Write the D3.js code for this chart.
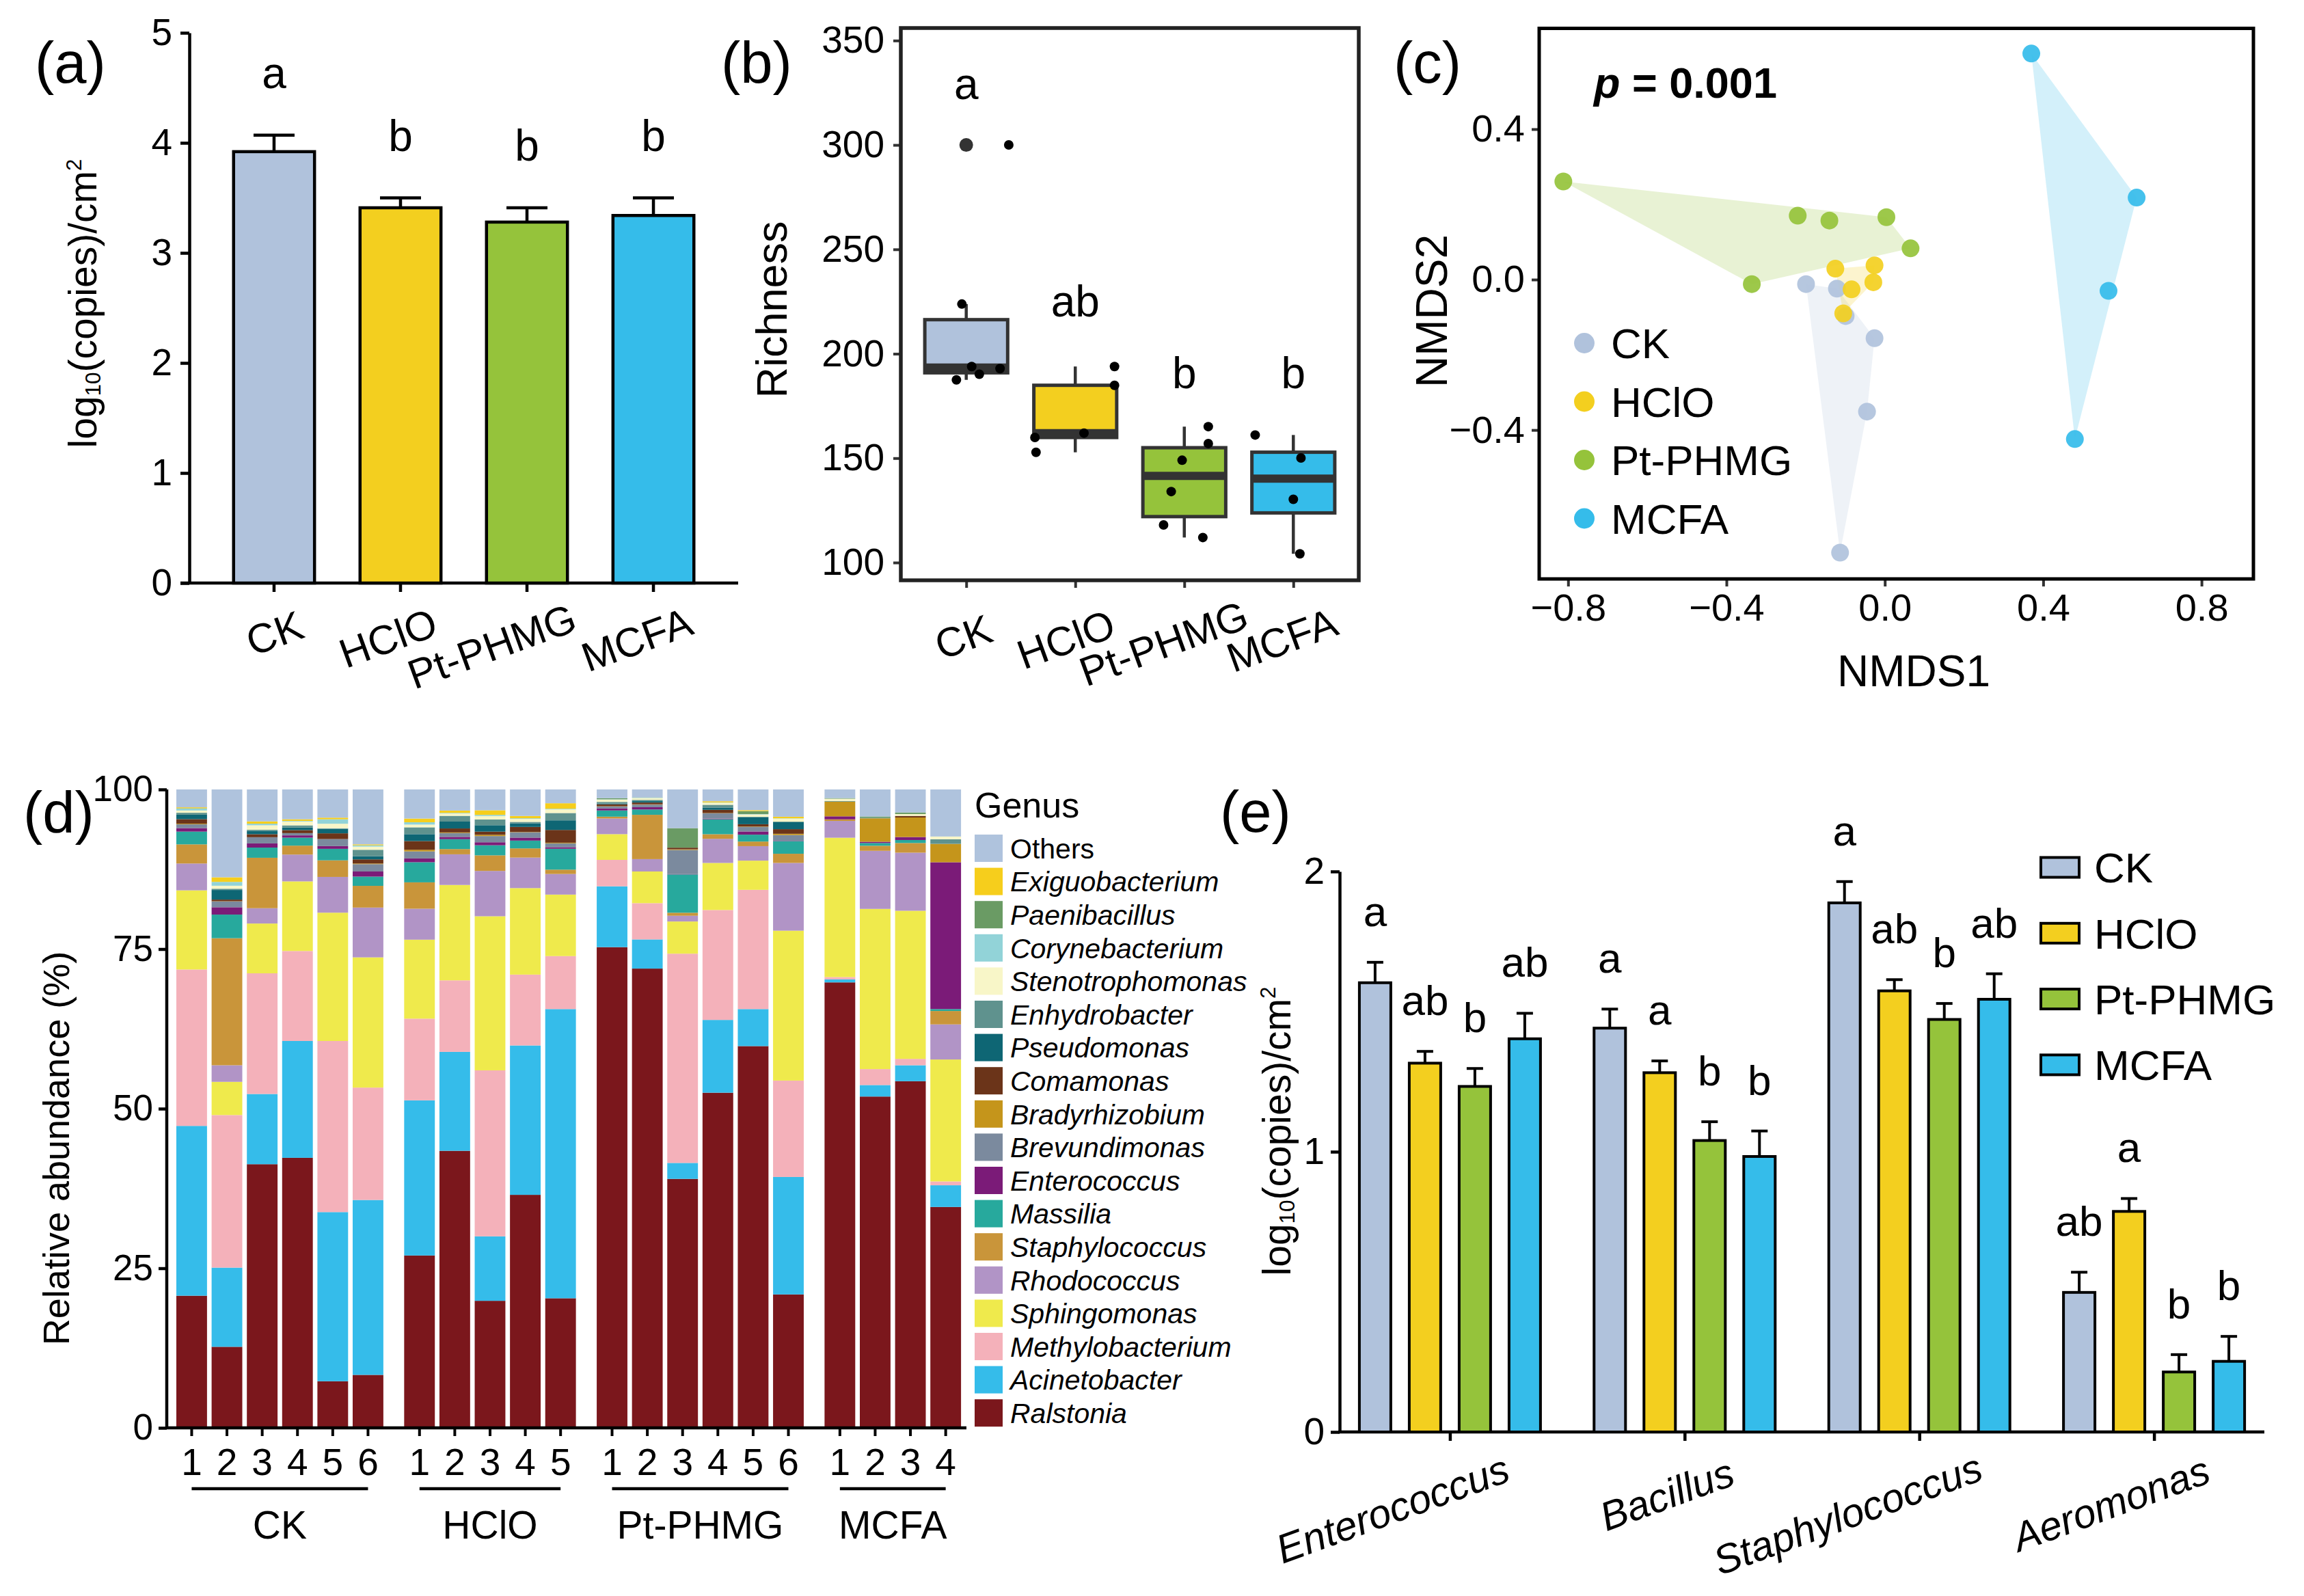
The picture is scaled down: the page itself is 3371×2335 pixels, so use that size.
<!DOCTYPE html>
<html lang="en">
<head>
<meta charset="UTF-8">
<title>Disinfectant effects on surface bacteria</title>
<style>
  body { margin: 0; background: #fff; }
  svg { display: block; background: #fff; }
  text { font-family: Arial, "Liberation Sans", sans-serif; fill: #000; }
</style>
</head>
<body>
<svg id="fig" width="3371" height="2335"></svg>
<script src="https://cdn.jsdelivr.net/npm/d3@7"></script>
<script>
// treatments shared by every panel
const groups = ["CK", "HClO", "Pt-PHMG", "MCFA"];
const groupColors = ["#B0C2DC", "#F3CF1F", "#95C33B", "#35BCEA"];

// (a) total bacterial load
const loadMean = [3.92, 3.41, 3.28, 3.34];
const loadErr = [0.15, 0.09, 0.13, 0.16];
const loadLetters = ["a", "b", "b", "b"];

// (b) richness of each sample, with the jitter seen in the plot (fraction of a step)
const richness = [
  [300, 223.8, 193.9, 190.2, 192.9, 187.5],
  [159.9, 152.8, 162, 193.9, 184.9],
  [165.1, 157, 149, 134, 118, 112],
  [161.1, 150.1, 130.3, 104.2]
];
const richJitter = [
  [0.39, -0.04, 0.05, 0.12, 0.31, -0.09],
  [-0.37, -0.36, 0.08, 0.36, 0.36],
  [0.22, 0.22, -0.02, -0.12, -0.19, 0.17],
  [-0.35, 0.07, 0, 0.06]
];
const richLetters = ["a", "ab", "b", "b"];
const richLetterAt = [322, 218, 183.5, 183.5];

// (c) NMDS scores
const nmdsCK = [[-0.199, -0.012], [-0.121, -0.024], [-0.099, -0.097], [-0.026, -0.156], [-0.045, -0.351], [-0.113, -0.726]];
const nmdsHClO = [[-0.125, 0.029], [-0.026, 0.038], [-0.029, -0.007], [-0.084, -0.026], [-0.105, -0.090]];
const nmdsPt = [[-0.812, 0.261], [-0.220, 0.170], [-0.140, 0.157], [0.004, 0.166], [0.065, 0.083], [-0.336, -0.012]];
const nmdsMCFA = [[0.370, 0.601], [0.636, 0.218], [0.565, -0.030], [0.480, -0.424]];
const nmdsP = "0.001";

// (d) genus composition, stack order bottom -> top; "Others" is the remainder
const genusNames = ["Ralstonia", "Acinetobacter", "Methylobacterium", "Sphingomonas", "Rhodococcus",
  "Staphylococcus", "Massilia", "Enterococcus", "Brevundimonas", "Bradyrhizobium", "Comamonas",
  "Pseudomonas", "Enhydrobacter", "Stenotrophomonas", "Corynebacterium", "Paenibacillus", "Exiguobacterium"];
const genusColors = ["#7B171C", "#35BCEA", "#F4B1BA", "#EFEA4C", "#B194C6", "#C9953A", "#27A99D",
  "#7B1B78", "#7B8A9E", "#C5951B", "#6B3419", "#0E6674", "#5F928E", "#F8F6C8", "#92D3D8",
  "#6A9B64", "#F6CE1C"];
const othersColor = "#AFC3DD";
const sampleCounts = [6, 5, 6, 4];
const composition = [
  [20.7, 26.6, 24.5, 12.4, 4.2, 3.0, 2.0, 0.55, 0.6, 0.1, 0.7, 0.7, 0.3, 0.35, 0.3, 0.05, 0.15],
  [12.7, 12.4, 23.9, 5.2, 2.6, 19.9, 3.7, 1.15, 0.9, 0.05, 0.25, 1.5, 0.2, 0.47, 0.6, 0, 0.72],
  [41.3, 11.0, 18.9, 7.8, 2.4, 7.9, 1.6, 0.65, 0.97, 0, 0.47, 0.5, 0.2, 0.7, 0.25, 0, 0.36],
  [42.3, 18.3, 14.1, 10.9, 4.2, 1.4, 1.25, 0.36, 0.35, 0, 0.47, 0.4, 0.35, 0.6, 0.1, 0, 0.25],
  [7.3, 26.5, 26.8, 20.1, 5.6, 2.6, 1.8, 0.43, 1.1, 0, 0.9, 0.7, 0.1, 0.7, 0.7, 0, 0.25],
  [8.3, 27.4, 17.6, 20.4, 7.8, 3.4, 1.45, 0.8, 1.15, 0.1, 0.65, 0.5, 1.0, 0.5, 0.2, 0, 0.15],
  [27.0, 24.3, 12.8, 12.37, 4.85, 4.13, 3.15, 0.6, 1.1, 0.25, 1.37, 1.08, 1.07, 0.43, 0.36, 0, 0.58],
  [43.4, 15.5, 11.2, 14.94, 4.8, 0.82, 1.55, 0.36, 0.6, 0.1, 0.62, 1.08, 0.9, 0.36, 0.1, 0, 0.36],
  [19.9, 10.1, 26.0, 24.14, 7.1, 2.44, 1.58, 0.47, 0.97, 0.2, 0.5, 1.0, 0.9, 0.54, 0.18, 0, 0.72],
  [36.5, 23.4, 11.1, 13.55, 4.78, 1.44, 1.22, 0.47, 0.83, 0.05, 0.79, 0.54, 0.25, 0.47, 0.1, 0, 0.36],
  [20.3, 45.3, 8.3, 9.63, 3.23, 0.68, 3.27, 0.25, 0.6, 0.1, 2.0, 1.5, 1.15, 0.57, 0.1, 0, 0.86],
  [75.3, 9.53, 4.14, 4.03, 2.45, 0.29, 0.97, 0.32, 0.3, 0.05, 0.3, 0.12, 0.25, 0.36, 0.05, 0.18, 0],
  [71.94, 4.57, 5.68, 4.96, 1.94, 6.94, 0.83, 0.36, 0.4, 0.05, 0.28, 0.22, 0.2, 0.29, 0.05, 0.05, 0],
  [39.0, 2.5, 32.78, 5.04, 0.9, 0.47, 6.0, 0.05, 3.78, 0.1, 0.26, 0, 0, 0, 0, 3.06, 0],
  [52.5, 11.4, 17.22, 7.37, 3.78, 0.72, 2.34, 0.1, 0.83, 0.05, 0.5, 0.36, 0.43, 0.32, 0.05, 0, 0.18],
  [59.8, 5.8, 18.68, 4.57, 2.27, 0.72, 1.08, 0.5, 0.72, 0.05, 0.36, 1.08, 0.1, 0.36, 0.05, 0.47, 0.15],
  [20.9, 18.4, 15.1, 23.48, 10.61, 1.44, 1.98, 0.05, 0.9, 0.2, 0.72, 1.08, 0.1, 0.47, 0.05, 0, 0.25],
  [69.78, 0.47, 0.36, 21.83, 2.63, 0.25, 0, 0.47, 0, 2.3, 0, 0, 0.1, 0.36, 0, 0.1, 0],
  [51.9, 1.8, 2.5, 25.09, 9.1, 0.79, 0.43, 0.2, 0, 3.67, 0, 0, 0.1, 0, 0, 0.18, 0],
  [54.3, 2.5, 1.0, 23.2, 9.1, 1.51, 0.47, 0.47, 0, 3.06, 0.25, 0, 0, 0.29, 0, 0.25, 0],
  [34.6, 3.4, 0.6, 19.1, 5.5, 2.1, 0.3, 23.0, 0, 2.88, 0, 0, 0.72, 0.43, 0, 0, 0]
];

// (e) target genera by qPCR
const targets = ["Enterococcus", "Bacillus", "Staphylococcus", "Aeromonas"];
const targetMean = [[1.603, 1.316, 1.233, 1.403], [1.441, 1.282, 1.040, 0.983], [1.888, 1.574, 1.472, 1.544], [0.498, 0.787, 0.214, 0.252]];
const targetErr = [[0.073, 0.042, 0.064, 0.091], [0.068, 0.042, 0.067, 0.091], [0.076, 0.040, 0.057, 0.091], [0.072, 0.046, 0.062, 0.089]];
const targetLetters = [["a", "ab", "b", "ab"], ["a", "a", "b", "b"], ["a", "ab", "b", "ab"], ["ab", "a", "b", "b"]];

const svg = d3.select("#fig");
const color = d3.scaleOrdinal().domain(groups).range(groupColors);

function panelLabel(x, y, t) {
  svg.append("text").attr("x", x).attr("y", y).attr("font-size", 85).text(t);
}

// y title with a subscript 10 and a superscript 2
function logTitle(x, y, size) {
  const t = svg.append("text").attr("transform", `translate(${x},${y}) rotate(-90)`)
    .attr("text-anchor", "middle").attr("font-size", size);
  t.append("tspan").text("log");
  t.append("tspan").attr("font-size", size * 0.55).attr("dy", size * 0.1).text("10");
  t.append("tspan").attr("dy", -size * 0.1).text("(copies)/cm");
  t.append("tspan").attr("font-size", size * 0.55).attr("dy", -size * 0.38).text("2");
}

function styleAxis(g, width, col) {
  g.selectAll("line").attr("stroke", col || "#000").attr("stroke-width", width);
  g.selectAll("path").attr("stroke", col || "#000").attr("stroke-width", width);
  g.selectAll("text").attr("font-family", "Arial, 'Liberation Sans', sans-serif").attr("fill", "#000");
}

// slanted tick labels: the point at fraction hj of the text sits at (dx, dy) from the tick
function slant(sel, dx, dy, hj, angle) {
  sel.each(function () {
    const len = this.getComputedTextLength();
    d3.select(this).attr("text-anchor", "start").attr("x", -hj * len).attr("y", 0).attr("dy", 0)
      .attr("transform", `translate(${dx},${dy}) rotate(${-angle})`);
  });
}

// ---------- (a) ----------
{
  const y = d3.scaleLinear().domain([0, 5]).range([853, 48]);
  const x = d3.scaleBand().domain(groups).range([277, 1080]).paddingInner(0.36).paddingOuter(0.35);

  const ya = svg.append("g").attr("transform", "translate(277,0)")
    .call(d3.axisLeft(y).ticks(5).tickSize(13).tickSizeOuter(0).tickPadding(12));
  ya.selectAll("text").attr("font-size", 55);
  styleAxis(ya, 4.5);

  const xa = svg.append("g").attr("transform", "translate(0,853)")
    .call(d3.axisBottom(x).tickSize(13).tickSizeOuter(0));
  xa.select(".domain").remove();
  xa.append("line").attr("x1", 264).attr("x2", 1080).attr("stroke", "#000");
  xa.selectAll(".tick text").attr("font-size", 60);
  styleAxis(xa, 4.5);
  slant(xa.selectAll(".tick text"), 33, 84, 0.82, 20);

  const bars = svg.append("g");
  groups.forEach((g, i) => {
    const cx = x(g) + x.bandwidth() / 2;
    const top = y(loadMean[i] + loadErr[i]);
    bars.append("line").attr("x1", cx).attr("x2", cx).attr("y1", y(loadMean[i])).attr("y2", top)
      .attr("stroke", "#000").attr("stroke-width", 4.5);
    bars.append("line").attr("x1", cx - 30).attr("x2", cx + 30).attr("y1", top).attr("y2", top)
      .attr("stroke", "#000").attr("stroke-width", 4.5);
    bars.append("rect").attr("x", x(g)).attr("width", x.bandwidth())
      .attr("y", y(loadMean[i])).attr("height", y(0) - y(loadMean[i]))
      .attr("fill", color(g)).attr("stroke", "#000").attr("stroke-width", 4.5);
    bars.append("text").attr("x", cx).attr("y", top - 69)
      .attr("text-anchor", "middle").attr("font-size", 64).text(loadLetters[i]);
  });

  logTitle(141, 444, 57);
  panelLabel(51, 121, "(a)");
}

// ---------- (b) ----------
{
  const y = d3.scaleLinear().domain([91.5, 356]).range([849, 41]);
  const x = d3.scalePoint().domain(groups).range([1318, 1988]).padding(0.6);
  const boxW = x.step() * 0.76;
  const dark = "#333";

  const yb = svg.append("g").attr("transform", "translate(1318,0)")
    .call(d3.axisLeft(y).tickValues([100, 150, 200, 250, 300, 350]).tickSize(11).tickPadding(13));
  yb.select(".domain").remove();
  yb.selectAll("text").attr("font-size", 55);
  styleAxis(yb, 4, dark);

  const xb = svg.append("g").attr("transform", "translate(0,849)")
    .call(d3.axisBottom(x).tickSize(11));
  xb.select(".domain").remove();
  xb.selectAll(".tick text").attr("font-size", 60);
  styleAxis(xb, 4, dark);
  slant(xb.selectAll(".tick text"), 15, 98, 0.66, 20);

  const boxes = svg.append("g");
  groups.forEach((g, i) => {
    const v = richness[i].slice().sort(d3.ascending);
    const q1 = d3.quantile(v, 0.25), med = d3.quantile(v, 0.5), q3 = d3.quantile(v, 0.75);
    const iqr = q3 - q1;
    const hi = d3.max(v.filter(d => d <= q3 + 1.5 * iqr));
    const lo = d3.min(v.filter(d => d >= q1 - 1.5 * iqr));
    const outl = v.filter(d => d > q3 + 1.5 * iqr || d < q1 - 1.5 * iqr);
    const cx = x(g);
    boxes.append("line").attr("x1", cx).attr("x2", cx).attr("y1", y(q3)).attr("y2", y(hi))
      .attr("stroke", dark).attr("stroke-width", 4.5);
    boxes.append("line").attr("x1", cx).attr("x2", cx).attr("y1", y(q1)).attr("y2", y(lo))
      .attr("stroke", dark).attr("stroke-width", 4.5);
    boxes.append("rect").attr("x", cx - boxW / 2).attr("width", boxW)
      .attr("y", y(q3)).attr("height", y(q1) - y(q3))
      .attr("fill", color(g)).attr("stroke", dark).attr("stroke-width", 5);
    boxes.append("line").attr("x1", cx - boxW / 2).attr("x2", cx + boxW / 2)
      .attr("y1", y(med)).attr("y2", y(med)).attr("stroke", dark).attr("stroke-width", 12);
    outl.forEach(o => boxes.append("circle").attr("cx", cx).attr("cy", y(o)).attr("r", 10).attr("fill", dark));
    richness[i].forEach((d, j) => {
      boxes.append("circle").attr("cx", cx + richJitter[i][j] * x.step()).attr("cy", y(d))
        .attr("r", 7).attr("fill", "#000");
    });
    boxes.append("text").attr("x", cx).attr("y", y(richLetterAt[i]))
      .attr("text-anchor", "middle").attr("font-size", 64).text(richLetters[i]);
  });

  svg.append("rect").attr("x", 1318).attr("y", 41).attr("width", 670).attr("height", 808)
    .attr("fill", "none").attr("stroke", "#222").attr("stroke-width", 5.5);

  svg.append("text").attr("transform", "translate(1151,453) rotate(-90)")
    .attr("text-anchor", "middle").attr("font-size", 63).text("Richness");
  panelLabel(1055, 121, "(b)");
}

// ---------- (c) ----------
{
  const x = d3.scaleLinear().domain([-0.873, 0.931]).range([2252, 3297]);
  const y = d3.scaleLinear().domain([-0.796, 0.668]).range([847, 41.5]);
  const sets = [nmdsCK, nmdsHClO, nmdsPt, nmdsMCFA];
  const fmt = d => d3.format(".1f")(d).replace("-", "\u2212");

  const xc = svg.append("g").attr("transform", "translate(0,847)")
    .call(d3.axisBottom(x).tickValues([-0.8, -0.4, 0, 0.4, 0.8]).tickSize(11).tickPadding(10));
  xc.select(".domain").remove();
  xc.selectAll("text").attr("font-size", 56).text(fmt);
  styleAxis(xc, 4, "#333");

  const yc = svg.append("g").attr("transform", "translate(2252,0)")
    .call(d3.axisLeft(y).tickValues([-0.4, 0, 0.4]).tickSize(11).tickPadding(10));
  yc.select(".domain").remove();
  yc.selectAll("text").attr("font-size", 56).text(fmt);
  styleAxis(yc, 4, "#333");

  const hulls = svg.append("g");
  sets.forEach((pts, i) => {
    const hull = d3.polygonHull(pts.map(p => [x(p[0]), y(p[1])]));
    hulls.append("path").attr("d", "M" + hull.join("L") + "Z")
      .attr("fill", groupColors[i]).attr("fill-opacity", 0.22).attr("stroke", "none");
  });
  sets.forEach((pts, i) => {
    hulls.selectAll(null).data(pts).join("circle")
      .attr("cx", d => x(d[0])).attr("cy", d => y(d[1])).attr("r", 13)
      .attr("fill", groupColors[i]).attr("fill-opacity", 0.92);
  });

  svg.append("rect").attr("x", 2252).attr("y", 41.5).attr("width", 1045).attr("height", 805.5)
    .attr("fill", "none").attr("stroke", "#000").attr("stroke-width", 5);

  const pl = svg.append("text").attr("x", 2332).attr("y", 143)
    .attr("font-family", "'Times New Roman', 'Liberation Serif', serif").attr("font-weight", "bold").attr("font-size", 63);
  pl.append("tspan").attr("font-style", "italic").text("p");
  pl.append("tspan").text(" = " + nmdsP);

  const leg = svg.append("g");
  groups.forEach((g, i) => {
    const ly = 502 + i * 85.5;
    leg.append("circle").attr("cx", 2318).attr("cy", ly).attr("r", 15).attr("fill", groupColors[i]);
    leg.append("text").attr("x", 2357).attr("y", ly).attr("dy", "0.36em").attr("font-size", 62).text(g);
  });

  svg.append("text").attr("x", 2800).attr("y", 1004).attr("text-anchor", "middle").attr("font-size", 64).text("NMDS1");
  svg.append("text").attr("transform", "translate(2117,455) rotate(-90)")
    .attr("text-anchor", "middle").attr("font-size", 64).text("NMDS2");
  panelLabel(2039, 121, "(c)");
}

// ---------- (d) ----------
{
  const y = d3.scaleLinear().domain([0, 100]).range([2089, 1155]);
  const gap = 0.46;
  const slotX = d3.scaleLinear().domain([0, 1]).range([258, 309.6]);
  const barW = (slotX(1) - slotX(0)) * 0.87;

  // flatten samples with their slot positions
  const samples = [];
  let k = 0;
  sampleCounts.forEach((n, g) => {
    for (let s = 0; s < n; s++) {
      samples.push({ group: g, label: s + 1, slot: k + g * gap, values: composition[k] });
      k++;
    }
  });

  const bars = svg.append("g");
  samples.forEach(smp => {
    let acc = 0;
    const x0 = slotX(smp.slot);
    smp.values.forEach((v, j) => {
      if (v <= 0) return;
      bars.append("rect").attr("x", x0).attr("width", barW)
        .attr("y", y(acc + v)).attr("height", y(acc) - y(acc + v)).attr("fill", genusColors[j]);
      acc += v;
    });
    bars.append("rect").attr("x", x0).attr("width", barW)
      .attr("y", y(100)).attr("height", y(acc) - y(100)).attr("fill", othersColor);
  });

  const yd = svg.append("g").attr("transform", "translate(244,0)")
    .call(d3.axisLeft(y).tickValues([0, 25, 50, 75, 100]).tickSize(12).tickSizeOuter(0).tickPadding(8));
  yd.select(".domain").remove();
  yd.selectAll("text").attr("font-size", 53);
  styleAxis(yd, 4.5);

  const axisG = svg.append("g");
  axisG.append("line").attr("x1", 244).attr("x2", 1414).attr("y1", y(0)).attr("y2", y(0))
    .attr("stroke", "#000").attr("stroke-width", 4.5);
  axisG.append("line").attr("x1", 244).attr("x2", 244).attr("y1", y(100)).attr("y2", y(0) + 2)
    .attr("stroke", "#000").attr("stroke-width", 4.5);
  samples.forEach(smp => {
    const cx = slotX(smp.slot) + barW / 2;
    axisG.append("line").attr("x1", cx).attr("x2", cx).attr("y1", y(0)).attr("y2", y(0) + 12)
      .attr("stroke", "#000").attr("stroke-width", 4);
    axisG.append("text").attr("x", cx).attr("y", y(0) + 69).attr("text-anchor", "middle")
      .attr("font-size", 55).text(smp.label);
  });
  groups.forEach((g, gi) => {
    const members = samples.filter(s => s.group === gi);
    const a = slotX(members[0].slot) + barW / 2;
    const b = slotX(members[members.length - 1].slot) + barW / 2;
    axisG.append("line").attr("x1", a).attr("x2", b).attr("y1", 2178).attr("y2", 2178)
      .attr("stroke", "#000").attr("stroke-width", 4.5);
    axisG.append("text").attr("x", (a + b) / 2).attr("y", 2251).attr("text-anchor", "middle")
      .attr("font-size", 57).text(g);
  });

  svg.append("text").attr("transform", "translate(101,1680) rotate(-90)")
    .attr("text-anchor", "middle").attr("font-size", 54).text("Relative abundance (%)");
  panelLabel(34, 1218, "(d)");

  // legend, top entry is Others
  const leg = svg.append("g");
  leg.append("text").attr("x", 1426).attr("y", 1196).attr("font-size", 52).text("Genus");
  const entries = [{ name: "Others", col: othersColor, italic: false }]
    .concat(genusNames.map((n, j) => ({ name: n, col: genusColors[j], italic: true })).reverse());
  entries.forEach((e, i) => {
    const ly = 1221 + i * 48.6;
    leg.append("rect").attr("x", 1426).attr("y", ly).attr("width", 41).attr("height", 40).attr("fill", e.col);
    leg.append("text").attr("x", 1478).attr("y", ly + 20).attr("dy", "0.36em").attr("font-size", 41)
      .attr("font-style", e.italic ? "italic" : "normal").text(e.name);
  });
}

// ---------- (e) ----------
{
  const y = d3.scaleLinear().domain([0, 2]).range([2095, 1275]);
  const x = d3.scalePoint().domain(targets).range([1960, 3313]).padding(0.47);
  const inner = d3.scalePoint().domain(groups).range([-109.5, 109.5]);
  const barW = 46;

  const ye = svg.append("g").attr("transform", "translate(1960,0)")
    .call(d3.axisLeft(y).ticks(2).tickSize(13).tickSizeOuter(0).tickPadding(9));
  ye.selectAll("text").attr("font-size", 55);
  styleAxis(ye, 4.5);

  const xe = svg.append("g").attr("transform", "translate(0,2095)")
    .call(d3.axisBottom(x).tickSize(13).tickSizeOuter(0));
  xe.select(".domain").remove();
  xe.append("line").attr("x1", 1958).attr("x2", 3313).attr("stroke", "#000");
  xe.selectAll(".tick text").attr("font-size", 59).attr("font-style", "italic");
  styleAxis(xe, 4.5);
  slant(xe.selectAll(".tick text"), 57, 83, 0.9, 20);

  const bars = svg.append("g");
  targets.forEach((t, ti) => {
    groups.forEach((g, gi) => {
      const cx = x(t) + inner(g);
      const m = targetMean[ti][gi], e = targetErr[ti][gi];
      bars.append("line").attr("x1", cx).attr("x2", cx).attr("y1", y(m)).attr("y2", y(m + e))
        .attr("stroke", "#000").attr("stroke-width", 4);
      bars.append("line").attr("x1", cx - 12).attr("x2", cx + 12).attr("y1", y(m + e)).attr("y2", y(m + e))
        .attr("stroke", "#000").attr("stroke-width", 4);
      bars.append("rect").attr("x", cx - barW / 2).attr("width", barW)
        .attr("y", y(m)).attr("height", y(0) - y(m))
        .attr("fill", color(g)).attr("stroke", "#000").attr("stroke-width", 4);
      bars.append("text").attr("x", cx).attr("y", y(m + e) - 53).attr("text-anchor", "middle")
        .attr("font-size", 62).text(targetLetters[ti][gi]);
    });
  });

  const leg = svg.append("g");
  groups.forEach((g, i) => {
    const ly = 1269 + i * 96.3;
    leg.append("rect").attr("x", 2986).attr("y", ly - 14.5).attr("width", 56).attr("height", 29)
      .attr("fill", groupColors[i]).attr("stroke", "#000").attr("stroke-width", 4);
    leg.append("text").attr("x", 3064).attr("y", ly).attr("dy", "0.36em").attr("font-size", 62).text(g);
  });

  logTitle(1888, 1655, 57);
  panelLabel(1785, 1217, "(e)");
}
</script>
</body>
</html>
